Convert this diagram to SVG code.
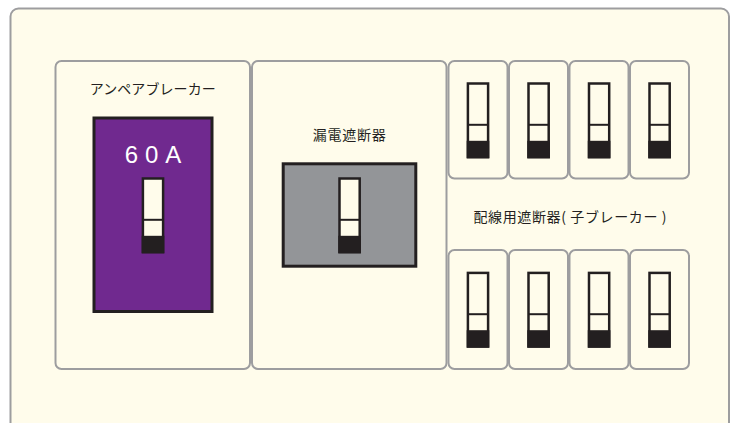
<svg xmlns="http://www.w3.org/2000/svg" xmlns:xlink="http://www.w3.org/1999/xlink" width="731" height="423" viewBox="0 0 731 423">
<style>
.panel{fill:#fffceb;stroke:#9d9d9f;stroke-width:2}
.box{fill:#fffceb;stroke:#9d9d9f;stroke-width:2}
.lbl{font-family:"Noto Sans CJK JP","Noto Sans",sans-serif;font-size:14px;fill:#231f20;text-anchor:middle}
.amp{font-family:"Liberation Sans",Arial,sans-serif;font-size:24px;fill:#ffffff;text-anchor:middle;letter-spacing:7px}
</style>
<defs>
<g id="toggle">
<rect x="1.2" y="1.2" width="20.2" height="73.6" fill="#fffceb" stroke="#231f20" stroke-width="2.5"/>
<rect x="0" y="58.5" width="22.6" height="17.5" fill="#231f20"/>
<line x1="1" y1="42.5" x2="21.6" y2="42.5" stroke="#231f20" stroke-width="2"/>
</g>
</defs>
<rect width="731" height="423" fill="#ffffff"/>
<rect class="panel" x="10.5" y="8.5" width="718.5" height="430" rx="8"/>
<g id="connectors"></g>
<g id="ampere-breaker">
<rect class="box" x="55.5" y="61" width="194.5" height="308" rx="6"/>
<text class="lbl" x="152.7" y="94" textLength="126" lengthAdjust="spacing">アンペアブレーカー</text>
<rect x="94" y="118" width="118" height="193.5" fill="#70298f" stroke="#231f20" stroke-width="3"/>
<text class="amp" x="156.5" y="163">60A</text>
<use xlink:href="#toggle" x="141.7" y="177.3"/>
</g>
<g id="leakage-breaker">
<rect class="box" x="252" y="61" width="194.5" height="308" rx="6"/>
<text class="lbl" x="349.2" y="140" textLength="73" lengthAdjust="spacing">漏電遮断器</text>
<rect x="283.2" y="163.8" width="132.6" height="102.4" fill="#939598" stroke="#231f20" stroke-width="3"/>
<use xlink:href="#toggle" x="338.3" y="177.3"/>
</g>
<g id="branch-label">
<text class="lbl" x="570" y="221.5" textLength="193" lengthAdjust="spacing">配線用遮断器( 子ブレーカー )</text>
</g>
<g id="branch-top-1"><rect class="box" x="448.5" y="61" width="59" height="117.5" rx="6"/><use xlink:href="#toggle" x="466.7" y="82.3"/></g>
<g id="branch-top-2"><rect class="box" x="509" y="61" width="59" height="117.5" rx="6"/><use xlink:href="#toggle" x="527.3" y="82.3"/></g>
<g id="branch-top-3"><rect class="box" x="569.5" y="61" width="59" height="117.5" rx="6"/><use xlink:href="#toggle" x="587.8" y="82.3"/></g>
<g id="branch-top-4"><rect class="box" x="630" y="61" width="59" height="117.5" rx="6"/><use xlink:href="#toggle" x="648.3" y="82.3"/></g>
<g id="branch-bottom-1"><rect class="box" x="448.5" y="250" width="59" height="119" rx="6"/><use xlink:href="#toggle" x="466.7" y="271.7"/></g>
<g id="branch-bottom-2"><rect class="box" x="509" y="250" width="59" height="119" rx="6"/><use xlink:href="#toggle" x="527.3" y="271.7"/></g>
<g id="branch-bottom-3"><rect class="box" x="569.5" y="250" width="59" height="119" rx="6"/><use xlink:href="#toggle" x="587.8" y="271.7"/></g>
<g id="branch-bottom-4"><rect class="box" x="630" y="250" width="59" height="119" rx="6"/><use xlink:href="#toggle" x="648.3" y="271.7"/></g>
</svg>
